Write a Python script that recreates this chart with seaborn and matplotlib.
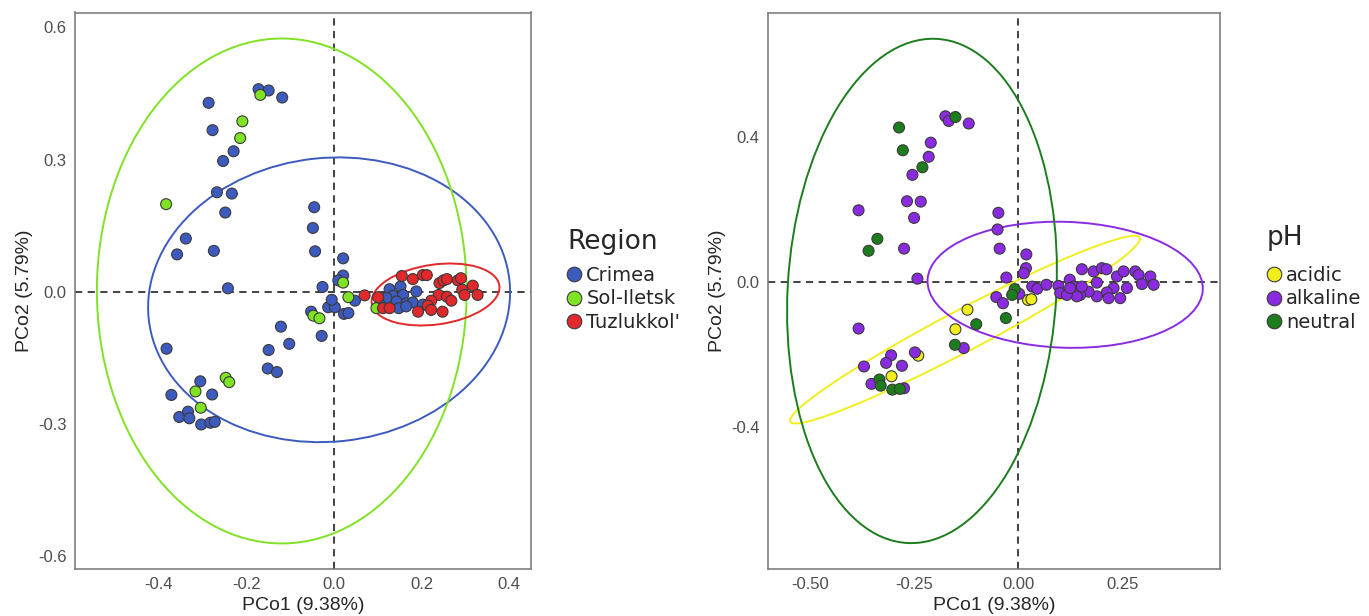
import numpy as np
import pandas as pd
import matplotlib
matplotlib.use("Agg")
import matplotlib.pyplot as plt
from matplotlib.patches import Ellipse
from matplotlib.lines import Line2D
import seaborn as sns

# --- Left panel: Region ---
crimea_x = [-0.172, -0.149, -0.118, -0.286, -0.277, -0.229, -0.253, -0.267, -0.233, -0.248,
            -0.338, -0.358, -0.274, -0.045, -0.048, -0.043, 0.021, 0.021, -0.242, -0.026,
            0.010, 0.048, -0.013, 0.002, -0.052, 0.023, 0.033, -0.121, -0.102, -0.028,
            -0.382, -0.149, -0.151, -0.130, -0.305, -0.371, -0.278, -0.353, -0.333, -0.330,
            -0.303, -0.282, -0.272, -0.005, 0.127, 0.152, 0.188, 0.135, 0.158, 0.120,
            0.143, 0.165, 0.180, 0.148, 0.165, 0.105, 0.203]
crimea_y = [0.460, 0.457, 0.441, 0.429, 0.367, 0.319, 0.297, 0.226, 0.223, 0.180,
            0.121, 0.085, 0.093, 0.192, 0.145, 0.092, 0.076, 0.037, 0.008, 0.011,
            0.026, -0.020, -0.035, -0.035, -0.045, -0.050, -0.048, -0.079, -0.118, -0.100,
            -0.129, -0.132, -0.174, -0.182, -0.203, -0.234, -0.233, -0.284, -0.272, -0.287,
            -0.301, -0.297, -0.295, -0.018, 0.006, 0.012, 0.001, -0.009, -0.007, -0.014,
            -0.022, -0.026, -0.024, -0.037, -0.033, -0.029, -0.029]
sol_x = [-0.168, -0.209, -0.214, -0.383, 0.021, 0.033, -0.047, -0.033, -0.247, -0.239,
         -0.316, -0.304, 0.097]
sol_y = [0.447, 0.387, 0.349, 0.199, 0.021, -0.012, -0.054, -0.060, -0.195, -0.205,
         -0.226, -0.263, -0.037]
tuz_x = [0.070, 0.101, 0.155, 0.180, 0.203, 0.212, 0.241, 0.250, 0.258, 0.283,
         0.290, 0.317, 0.293, 0.298, 0.328, 0.239, 0.258, 0.268, 0.222, 0.214,
         0.222, 0.192, 0.248, 0.112, 0.127]
tuz_y = [-0.008, -0.012, 0.036, 0.029, 0.038, 0.038, 0.020, 0.026, 0.029, 0.026,
         0.031, 0.014, 0.005, -0.007, -0.007, -0.007, -0.011, -0.020, -0.020, -0.031,
         -0.041, -0.045, -0.045, -0.037, -0.037]

regions = ["Crimea", "Sol-Iletsk", "Tuzlukkol'"]
region_colors = ["#3D5BBF", "#80E224", "#E2282A"]
# ellipse: centre x, centre y, semi-axis a, semi-axis b, angle (deg)
region_ell = {
    "Crimea": (-0.011, -0.018, 0.414, 0.322, 6),
    "Sol-Iletsk": (-0.119, 0.002, 0.422, 0.573, 0),
    "Tuzlukkol'": (0.232, -0.006, 0.147, 0.068, 8),
}

# --- Right panel: pH ---
acid_x = [0.023, 0.031, -0.122, -0.151, -0.240, -0.304]
acid_y = [-0.050, -0.048, -0.077, -0.131, -0.204, -0.261]
neutral_x = [-0.151, -0.286, -0.277, -0.230, -0.338, -0.359, -0.009, -0.015, -0.333, -0.330,
             -0.302, -0.284, -0.152, -0.101, -0.030]
neutral_y = [0.456, 0.427, 0.364, 0.317, 0.119, 0.086, -0.020, -0.036, -0.270, -0.287,
             -0.298, -0.296, -0.174, -0.117, -0.100]
alk_x = [-0.175, -0.167, -0.119, -0.210, -0.215, -0.254, -0.267, -0.234, -0.250, -0.383,
         -0.274, -0.242, -0.048, -0.050, -0.045, 0.019, 0.018, 0.013, -0.029, 0.033,
         0.045, 0.067, -0.053, -0.037, 0.002, -0.383, -0.305, -0.248, -0.317, -0.370,
         -0.279, -0.352, -0.274, -0.131, 0.096, 0.100, 0.123, 0.152, 0.180, 0.200,
         0.211, 0.236, 0.252, 0.280, 0.288, 0.316, 0.296, 0.324, 0.260, 0.244,
         0.228, 0.212, 0.216, 0.188, 0.188, 0.168, 0.148, 0.132, 0.140, 0.116,
         0.124, 0.152]
alk_y = [0.458, 0.445, 0.438, 0.385, 0.346, 0.296, 0.223, 0.222, 0.177, 0.198,
         0.092, 0.009, 0.191, 0.145, 0.092, 0.076, 0.038, 0.024, 0.012, -0.013,
         -0.019, -0.008, -0.042, -0.059, -0.033, -0.129, -0.203, -0.195, -0.224, -0.234,
         -0.232, -0.282, -0.294, -0.183, -0.011, -0.031, 0.006, 0.035, 0.029, 0.038,
         0.035, 0.015, 0.029, 0.029, 0.019, 0.015, -0.006, -0.008, -0.017, -0.045,
         -0.017, -0.029, -0.045, -0.040, -0.002, -0.027, -0.036, -0.013, -0.040, -0.036,
         -0.017, -0.013]

ph_levels = ["acidic", "alkaline", "neutral"]
ph_colors = ["#F2EE1E", "#8A2BE2", "#1C7D1C"]
ph_ell = {
    "acidic": (-0.128, -0.132, 0.49, 0.055, 31.4),
    "alkaline": (0.112, -0.008, 0.330, 0.174, -2.4),
    "neutral": (-0.231, -0.025, 0.698, 0.322, 87.3),
}

df_region = pd.DataFrame({
    "PCo1": crimea_x + sol_x + tuz_x,
    "PCo2": crimea_y + sol_y + tuz_y,
    "Region": ["Crimea"] * len(crimea_x) + ["Sol-Iletsk"] * len(sol_x) + ["Tuzlukkol'"] * len(tuz_x),
})
df_ph = pd.DataFrame({
    "PCo1": acid_x + alk_x + neutral_x,
    "PCo2": acid_y + alk_y + neutral_y,
    "pH": ["acidic"] * len(acid_x) + ["alkaline"] * len(alk_x) + ["neutral"] * len(neutral_x),
})

sns.set_style("white")
plt.rcParams["font.family"] = ["Liberation Sans", "DejaVu Sans"]

W, H = 1369, 616
fig = plt.figure(figsize=(W / 100, H / 100), dpi=100)
ax1 = fig.add_axes([75 / W, 1 - 569 / H, 456.5 / W, 556.5 / H])
ax2 = fig.add_axes([768 / W, 1 - 569 / H, 452 / W, 556.5 / H])


def draw_panel(ax, df, col, levels, colors, ells, xlim, ylim, xt, xtl, yt, ytl):
    ax.axhline(0, color="#333333", ls=(0, (4, 3)), lw=1.3, zorder=1)
    ax.axvline(0, color="#333333", ls=(0, (4, 3)), lw=1.3, zorder=1)
    sns.scatterplot(data=df, x="PCo1", y="PCo2", hue=col, hue_order=levels,
                    palette=colors, s=62, edgecolor="#3a3a3a", linewidth=0.8,
                    legend=False, ax=ax, zorder=3)
    for lev, c in zip(levels, colors):
        cx, cy, a, b, ang = ells[lev]
        ax.add_patch(Ellipse((cx, cy), 2 * a, 2 * b, angle=ang, fill=False,
                             edgecolor=c, lw=1.4, zorder=2))
    ax.set_xlim(*xlim)
    ax.set_ylim(*ylim)
    ax.set_xticks(xt)
    ax.set_xticklabels(xtl)
    ax.set_yticks(yt)
    ax.set_yticklabels(ytl)
    ax.tick_params(axis="both", length=4, width=1, color="#333333",
                   labelcolor="#4D4D4D", labelsize=12, direction="out", pad=2)
    ax.set_xlabel("PCo1 (9.38%)", fontsize=14, labelpad=3.5)
    ax.set_ylabel("PCo2 (5.79%)", fontsize=14, labelpad=4)
    for sp in ax.spines.values():
        sp.set_color("#7F7F7F")
        sp.set_linewidth(1.2)


draw_panel(ax1, df_region, "Region", regions, region_colors, region_ell,
           (-0.591, 0.451), (-0.629, 0.634),
           [-0.4, -0.2, 0.0, 0.2, 0.4], ["-0.4", "-0.2", "0.0", "0.2", "0.4"],
           [-0.6, -0.3, 0.0, 0.3, 0.6], ["-0.6", "-0.3", "0.0", "0.3", "0.6"])
draw_panel(ax2, df_ph, "pH", ph_levels, ph_colors, ph_ell,
           (-0.600, 0.483), (-0.794, 0.745),
           [-0.5, -0.25, 0.0, 0.25], ["-0.50", "-0.25", "0.00", "0.25"],
           [-0.4, 0.0, 0.4], ["-0.4", "0.0", "0.4"])


def add_legend(title, levels, colors, x_px, title_y_px):
    fig.text(x_px / W, 1 - title_y_px / H, title, fontsize=19, va="center",
             ha="left", family="DejaVu Sans")
    handles = [Line2D([], [], marker="o", ls="", markersize=10.5, markerfacecolor=c,
                      markeredgecolor="#3a3a3a", markeredgewidth=0.8) for c in colors]
    fig.legend(handles, levels, loc="center left",
               bbox_to_anchor=((x_px - 3) / W, 1 - 299 / H), frameon=False,
               prop={"family": "DejaVu Sans", "size": 14},
               handlelength=1.0, handletextpad=0.15, labelspacing=0.22,
               borderaxespad=0, borderpad=0)


add_legend("Region", regions, region_colors, 567, 242)
add_legend("pH", ph_levels, ph_colors, 1267, 238)

fig.savefig("out.png", dpi=100)
